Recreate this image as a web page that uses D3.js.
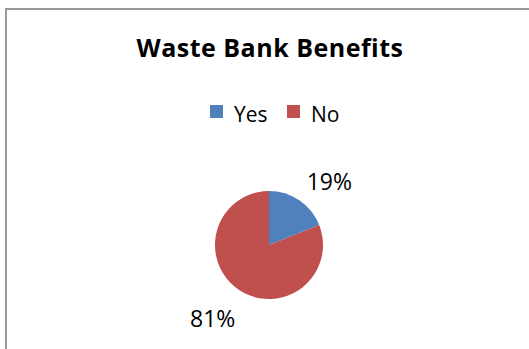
<!DOCTYPE html>
<html>
<head>
<meta charset="utf-8">
<script src="https://cdn.jsdelivr.net/npm/d3@7"></script>
<style>
  html, body { margin: 0; padding: 0; background: #fff; }
  svg { display: block; }
</style>
</head>
<body>
<div id="app"></div>
<script>
// 数据
const categories = ["Yes", "No"];
const values = [19, 81];
const colors = ["#4F81BD", "#C0504D"];

const width = 529, height = 349;
const font = "'Open Sans', Lato, sans-serif";

const svg = d3.select("#app").append("svg")
    .attr("width", width)
    .attr("height", height);

// 外框
svg.append("rect")
    .attr("x", 6).attr("y", 9)
    .attr("width", width).attr("height", height)
    .attr("fill", "#fff")
    .attr("stroke", "#999")
    .attr("stroke-width", 2);

// 标题
svg.append("text")
    .attr("x", 270).attr("y", 57)
    .attr("text-anchor", "middle")
    .style("font-family", font)
    .style("font-weight", "bold")
    .style("font-size", "25px")
    .style("letter-spacing", "0.5px")
    .text("Waste Bank Benefits");

// 图例
const legendX = [210, 287];
const legend = svg.selectAll(".legend")
    .data(categories)
    .enter().append("g")
    .attr("transform", (d, i) => `translate(${legendX[i]},105)`);
legend.append("rect")
    .attr("width", 13).attr("height", 13)
    .attr("fill", (d, i) => colors[i]);
legend.append("text")
    .attr("x", 24).attr("y", 16.5)
    .style("font-family", font)
    .style("font-size", "21px")
    .text(d => d);

// 饼图
const cx = 269, cy = 245, r = 54;
const pie = d3.pie().sort(null)(values);
const arc = d3.arc().innerRadius(0).outerRadius(r);
const g = svg.append("g").attr("transform", `translate(${cx},${cy})`);
g.selectAll("path")
    .data(pie)
    .enter().append("path")
    .attr("d", arc)
    .attr("fill", (d, i) => colors[i]);

// 百分比标签（最近角落放在中角方向上）
const total = d3.sum(values);
const labelArc = d3.arc().innerRadius(r + 13).outerRadius(r + 13);
g.selectAll(".lbl")
    .data(pie)
    .enter().append("text")
    .each(function(d) {
        const [x, y] = labelArc.centroid(d);
        d3.select(this)
            .attr("x", x >= 0 ? x : x + 4).attr("y", y)
            .attr("text-anchor", x >= 0 ? "start" : "end")
            .attr("dy", y >= 0 ? "1.15em" : "0");
    })
    .style("font-family", font)
    .style("font-size", "23px")
    .text(d => Math.round(d.data / total * 100) + "%");
</script>
</body>
</html>
